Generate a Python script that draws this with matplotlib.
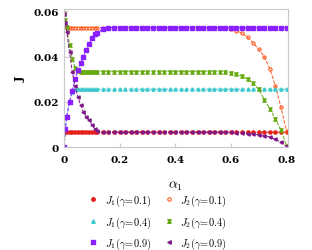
import matplotlib
matplotlib.use("Agg")
import matplotlib.pyplot as plt
from matplotlib.lines import Line2D
from matplotlib.path import Path

plt.rcParams['mathtext.fontset'] = 'cm'
plt.rcParams['font.family'] = 'DejaVu Serif'

# alpha_1 grid (denser near 0)
alpha = [0, 0.005, 0.01, 0.02, 0.03, 0.04, 0.05, 0.06, 0.07, 0.08, 0.09, 0.10,
         0.11, 0.12, 0.14, 0.16, 0.18, 0.20, 0.22, 0.24, 0.26, 0.28, 0.30, 0.32,
         0.34, 0.36, 0.38, 0.40, 0.42, 0.44, 0.46, 0.48, 0.50, 0.52, 0.54, 0.56,
         0.58, 0.60, 0.62, 0.64, 0.66, 0.68, 0.70, 0.72, 0.74, 0.76, 0.78, 0.80]

J1_g01 = [0, 0.0066, 0.0066, 0.0066, 0.0066, 0.0066, 0.0066, 0.0066, 0.0066, 0.0066,
          0.0066, 0.0066, 0.0066, 0.0066, 0.0066, 0.0066, 0.0066, 0.0066, 0.0066, 0.0066,
          0.0066, 0.0066, 0.0066, 0.0066, 0.0066, 0.0066, 0.0066, 0.0066, 0.0066, 0.0066,
          0.0066, 0.0066, 0.0066, 0.0066, 0.0066, 0.0066, 0.0066, 0.0066, 0.0066, 0.0066,
          0.0066, 0.0066, 0.0066, 0.0066, 0.0066, 0.0066, 0.0066, 0.0066]
J2_g01 = [0.056, 0.0535, 0.0528, 0.0528, 0.0528, 0.0528, 0.0528, 0.0528, 0.0528, 0.0528,
          0.0528, 0.0528, 0.0528, 0.0528, 0.0528, 0.0528, 0.0528, 0.0528, 0.0528, 0.0528,
          0.0528, 0.0528, 0.0528, 0.0528, 0.0528, 0.0528, 0.0528, 0.0528, 0.0528, 0.0528,
          0.0528, 0.0528, 0.0527, 0.0527, 0.0527, 0.0526, 0.0525, 0.0522, 0.0515, 0.0503,
          0.0485, 0.046, 0.0432, 0.040, 0.0345, 0.027, 0.0175, 0.007]
J1_g04 = [0, 0.008, 0.0135, 0.020, 0.0245, 0.0256, 0.0256, 0.0256, 0.0256, 0.0256,
          0.0256, 0.0256, 0.0256, 0.0256, 0.0256, 0.0256, 0.0256, 0.0256, 0.0256, 0.0256,
          0.0256, 0.0256, 0.0256, 0.0256, 0.0256, 0.0256, 0.0256, 0.0256, 0.0256, 0.0256,
          0.0256, 0.0256, 0.0256, 0.0256, 0.0256, 0.0256, 0.0256, 0.0256, 0.0256, 0.0256,
          0.0256, 0.0256, 0.0256, 0.0256, 0.0256, 0.0256, 0.0256, 0.0256]
J2_g04 = [0.059, 0.056, 0.053, 0.045, 0.039, 0.035, 0.0335, 0.0333, 0.0333, 0.0333,
          0.0333, 0.0333, 0.0333, 0.0333, 0.0333, 0.0333, 0.0333, 0.0333, 0.0333, 0.0333,
          0.0333, 0.0333, 0.0333, 0.0333, 0.0333, 0.0333, 0.0333, 0.0333, 0.0333, 0.0333,
          0.0333, 0.0333, 0.0333, 0.0333, 0.0333, 0.0333, 0.0332, 0.0328, 0.0322, 0.0313,
          0.030, 0.0282, 0.0255, 0.021, 0.0168, 0.0125, 0.0075, 0.0005]
J1_g09 = [0, 0.008, 0.0135, 0.020, 0.025, 0.030, 0.034, 0.037, 0.040, 0.043,
          0.0455, 0.048, 0.050, 0.0505, 0.0522, 0.0528, 0.0528, 0.0528, 0.0528, 0.0528,
          0.0528, 0.0528, 0.0528, 0.0528, 0.0528, 0.0528, 0.0528, 0.0528, 0.0528, 0.0528,
          0.0528, 0.0528, 0.0528, 0.0528, 0.0528, 0.0528, 0.0528, 0.0528, 0.0528, 0.0528,
          0.0528, 0.0528, 0.0528, 0.0528, 0.0528, 0.0528, 0.0528, 0.0528]
J2_g09 = [0.059, 0.055, 0.051, 0.042, 0.033, 0.027, 0.022, 0.0185, 0.0155, 0.0135,
          0.012, 0.0098, 0.0082, 0.007, 0.0066, 0.0066, 0.0066, 0.0066, 0.0066, 0.0066,
          0.0066, 0.0066, 0.0066, 0.0066, 0.0066, 0.0066, 0.0066, 0.0066, 0.0066, 0.0066,
          0.0066, 0.0066, 0.0066, 0.0066, 0.0066, 0.0066, 0.0066, 0.0065, 0.0064, 0.0062,
          0.006, 0.0058, 0.0055, 0.0051, 0.0045, 0.0035, 0.0022, 0.0003]

labels = [r'$J_1(\gamma\!=\!0.1)$', r'$J_2(\gamma\!=\!0.1)$',
          r'$J_1(\gamma\!=\!0.4)$', r'$J_2(\gamma\!=\!0.4)$',
          r'$J_1(\gamma\!=\!0.9)$', r'$J_2(\gamma\!=\!0.9)$']

hourglass = Path([(-1, 1), (1, 1), (-1, -1), (1, -1), (-1, 1)],
                 [Path.MOVETO, Path.LINETO, Path.LINETO, Path.LINETO, Path.CLOSEPOLY])

series = [
    (J1_g01, dict(color='#e3201b', marker='o', mfc='#e3201b')),
    (J2_g01, dict(color='#ff5a1f', marker='o', mfc='none', mew=0.8)),
    (J1_g04, dict(color='#3cc8cc', marker='^', mfc='#3cc8cc')),
    (J2_g04, dict(color='#66aa11', marker=hourglass, mfc='#66aa11')),
    (J1_g09, dict(color='#8a1fff', marker='s', mfc='#8a1fff')),
    (J2_g09, dict(color='#80188a', marker='<', mfc='#80188a')),
]

fig = plt.figure(figsize=(3.12, 2.51), dpi=100)
ax = fig.add_axes([0.205, 0.41, 0.718, 0.55])

handles = []
for (ys, st), lab in zip(series, labels):
    ax.plot(alpha, ys, linestyle='--', linewidth=0.7, markersize=2.3, **st)
    handles.append(Line2D([], [], linestyle='none', markersize=2.5, **st))

ax.set_xlim(0, 0.805)
ax.set_ylim(0, 0.061)
ax.set_xticks([0, 0.2, 0.4, 0.6, 0.8])
ax.set_xticklabels(['0', '0.2', '0.4', '0.6', '0.8'])
ax.set_yticks([0, 0.02, 0.04, 0.06])
ax.set_yticklabels(['0', '0.02', '0.04', '0.06'])
for s in ax.spines.values():
    s.set_color('#c8c8c8')
ax.tick_params(direction='in', length=3, color='#c8c8c8', labelsize=7.5)
ax.tick_params(axis='x', pad=6)
for t in ax.get_xticklabels() + ax.get_yticklabels():
    t.set_fontweight('bold')

ax.set_xlabel(r'$\alpha_1$', fontsize=10, labelpad=10)
ax.set_ylabel('J', fontsize=8, fontweight='bold', labelpad=6)

# legend in row order
order = [0, 2, 4, 1, 3, 5]
fig.legend([handles[i] for i in order], [labels[i] for i in order], ncol=2,
           loc='upper center', bbox_to_anchor=(0.505, 0.265), frameon=False,
           fontsize=7.5, handlelength=1.0, handletextpad=0.6, columnspacing=1.2,
           labelspacing=0.6)

fig.savefig('out.png', dpi=100)
